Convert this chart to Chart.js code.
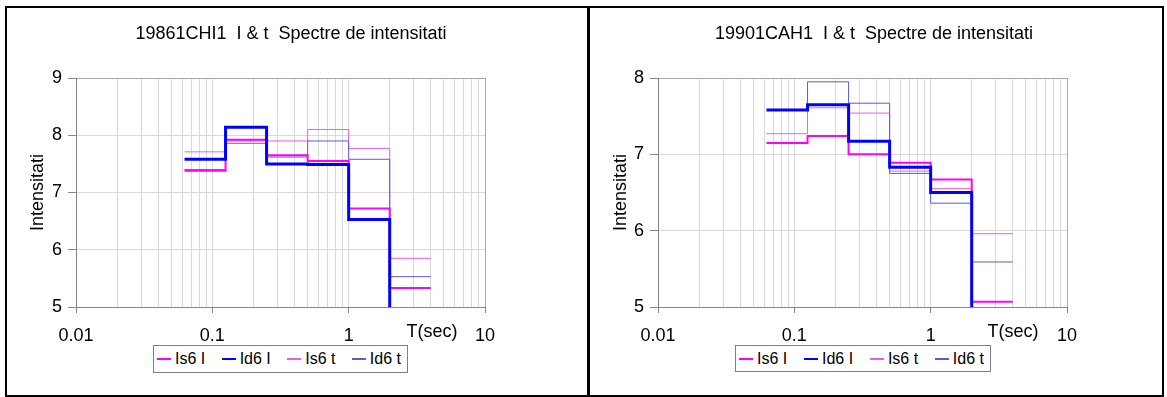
<!DOCTYPE html>
<html>
<head>
<meta charset="utf-8">
<script src="https://cdn.jsdelivr.net/npm/chart.js@4.4.0/dist/chart.umd.min.js"></script>
<style>
  body { margin: 0; background: #fff; font-family: "Liberation Sans", Arial, sans-serif; }
  #page { position: relative; width: 1167px; height: 397px; overflow: hidden; }
  .frame { position: absolute; left: 5px; top: 6px; width: 1159px; height: 391px; border: 2px solid #000; box-sizing: border-box; }
  .divider { position: absolute; left: 587px; top: 6px; width: 3px; height: 391px; background: #000; }
  canvas { position: absolute; top: 8px; }
  .title { position: absolute; top: 22px; width: 500px; text-align: center; font-size: 18px; line-height: 22px; white-space: pre; color: #000; }
  .tsec { position: absolute; top: 320px; width: 100px; text-align: center; font-size: 18px; line-height: 22px; color: #000; }
  .legend { position: absolute; top: 345px; height: 28px; border: 1px solid #808080; box-sizing: border-box; background: #fff;
            display: flex; align-items: center; justify-content: space-between; padding: 0 6px 0 3px; font-size: 16px; color: #000; }
  .legend .item { display: flex; align-items: center; white-space: pre; }
  .legend .swatch { display: inline-block; width: 14px; height: 2px; margin-right: 4px; }
</style>
</head>
<body>
<div id="page">
  <div class="frame"></div>
  <div class="divider"></div>

  <canvas id="chartChi" width="580" height="387" style="left:7px"></canvas>
  <div class="title" style="left:41px">19861CHI1  I &amp; t  Spectre de intensitati</div>
  <div class="tsec" style="left:382px">T(sec)</div>
  <div class="legend" id="legendChi" style="left:153px; width:255px"></div>

  <canvas id="chartCah" width="572" height="387" style="left:590px"></canvas>
  <div class="title" style="left:624px">19901CAH1  I &amp; t  Spectre de intensitati</div>
  <div class="tsec" style="left:963px">T(sec)</div>
  <div class="legend" id="legendCah" style="left:735px; width:256px; height:27px"></div>
</div>

<script>
// period bin edges (sec) - each value holds from one edge to the next
const PERIOD_EDGES = [0.0625, 0.125, 0.25, 0.5, 1, 2, 4];
const SERIES_NAMES = ["Is6 I", "Id6 I", "Is6 t", "Id6 t"];
const X_DECADES = [0.01, 0.1, 1, 10];
const X_LABELS = ["0.01", "0.1", "1", "10"];

// 19861CHI1
const CHI_IS6_I = [7.38, 7.92, 7.65, 7.55, 6.72, 5.33];
const CHI_ID6_I = [7.58, 8.14, 7.50, 7.49, 6.53, 4.6];
const CHI_IS6_T = [7.71, 7.90, 7.90, 8.10, 7.77, 5.85];
const CHI_ID6_T = [7.40, 7.86, 7.62, 7.90, 7.58, 5.53];

// 19901CAH1
const CAH_IS6_I = [7.15, 7.24, 7.00, 6.89, 6.67, 5.07];
const CAH_ID6_I = [7.58, 7.65, 7.17, 6.83, 6.50, 4.6];
const CAH_IS6_T = [7.27, 7.61, 7.54, 6.78, 6.55, 5.96];
const CAH_ID6_T = [7.58, 7.95, 7.67, 6.75, 6.36, 5.59];

const SERIES_STYLE = [
  { color: "#ff00ff", width: 2, order: 1 },
  { color: "#0000ff", width: 3, order: 0 },
  { color: "#ea5cea", width: 1, order: 3 },
  { color: "#5a5ad6", width: 1, order: 2 },
];

const FONT = "'Liberation Sans', Arial, sans-serif";

// log grid: 1..9 x each decade
const X_GRID = [];
X_DECADES.slice(0, -1).forEach(d => {
  for (let m = 1; m < 10; m++) X_GRID.push(Number((m * d).toPrecision(3)));
});
X_GRID.push(10);

function stepPoints(vals) {
  return PERIOD_EDGES.map((x, i) => ({ x, y: vals[Math.min(i, vals.length - 1)] }));
}

function makeChart(id, series, yMax, yAxisWidth, rightPad) {
  const datasets = series.map((vals, i) => ({
    label: SERIES_NAMES[i],
    data: stepPoints(vals),
    borderColor: SERIES_STYLE[i].color,
    borderWidth: SERIES_STYLE[i].width,
    order: SERIES_STYLE[i].order,
    stepped: "before",
    pointRadius: 0,
    fill: false,
    borderCapStyle: "butt",
    borderJoinStyle: "miter",
  }));

  return new Chart(document.getElementById(id), {
    type: "line",
    data: { datasets },
    options: {
      responsive: false,
      animation: false,
      layout: { padding: { top: 70, right: rightPad, left: 0, bottom: 0 } },
      plugins: { legend: { display: false }, tooltip: { enabled: false }, title: { display: false } },
      scales: {
        x: {
          type: "logarithmic",
          min: 0.01,
          max: 10,
          afterBuildTicks: s => { s.ticks = X_GRID.map(v => ({ value: v, major: X_DECADES.includes(v) })); },
          afterFit: s => { s.height = 88; },
          ticks: {
            autoSkip: false,
            maxRotation: 0,
            padding: 12,
            color: "#000",
            font: { family: FONT, size: 18 },
            callback: v => {
              const k = X_DECADES.indexOf(v);
              return k >= 0 ? X_LABELS[k] : "";
            },
          },
          grid: {
            color: c => (c.tick && c.tick.value === 10 ? "#a8a8a8" : "#d9d9d9"),
            tickColor: c => (c.tick && X_DECADES.includes(c.tick.value) ? "#868686" : "rgba(0,0,0,0)"),
            tickLength: 6,
          },
          border: { color: "#868686", width: 1 },
        },
        y: {
          min: 5,
          max: yMax,
          afterFit: s => { s.width = yAxisWidth; },
          ticks: { stepSize: 1, padding: 6, color: "#000", font: { family: FONT, size: 18 } },
          grid: {
            color: c => (c.tick && c.tick.value === yMax ? "#a8a8a8" : "#d9d9d9"),
            tickColor: "#868686",
            tickLength: 8,
          },
          border: { color: "#868686", width: 1 },
          title: { display: true, text: "Intensitati", color: "#000", font: { family: FONT, size: 18 }, padding: { top: 20, bottom: 0 } },
        },
      },
    },
  });
}

function makeLegend(id) {
  const box = document.getElementById(id);
  SERIES_NAMES.forEach((name, i) => {
    const item = document.createElement("span");
    item.className = "item";
    const sw = document.createElement("span");
    sw.className = "swatch";
    sw.style.background = SERIES_STYLE[i].color;
    item.appendChild(sw);
    item.appendChild(document.createTextNode(name));
    box.appendChild(item);
  });
}

makeChart("chartChi", [CHI_IS6_I, CHI_ID6_I, CHI_IS6_T, CHI_ID6_T], 9, 69, 102);
makeChart("chartCah", [CAH_IS6_I, CAH_ID6_I, CAH_IS6_T, CAH_ID6_T], 8, 68, 95);
makeLegend("legendChi");
makeLegend("legendCah");
</script>
</body>
</html>
